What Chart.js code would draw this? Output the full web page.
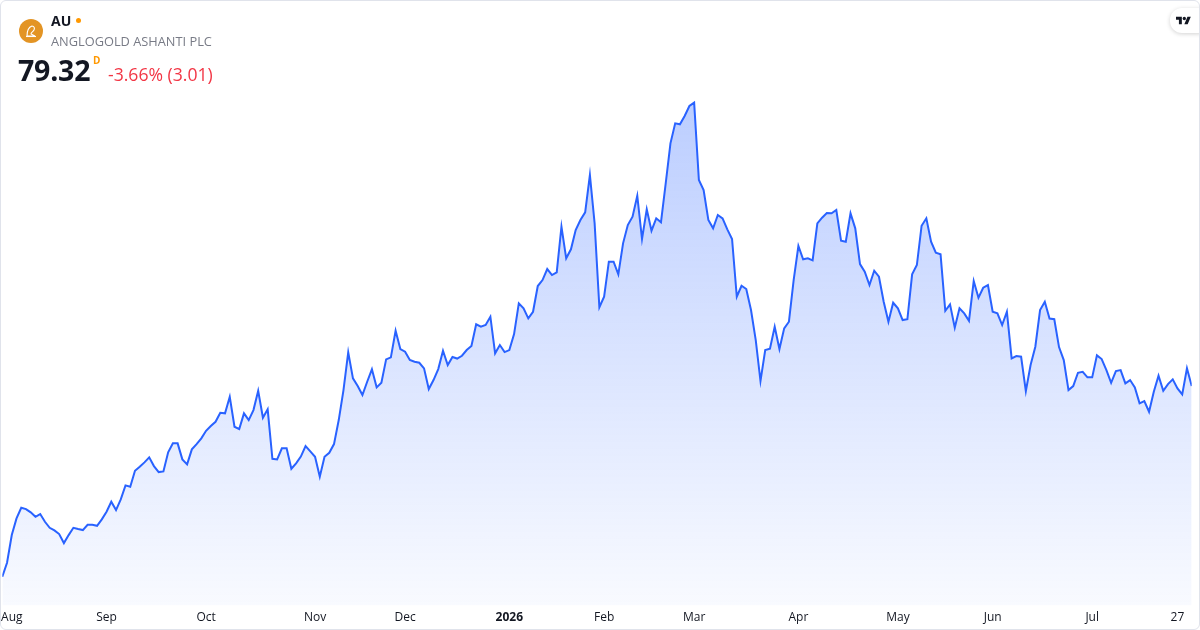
<!DOCTYPE html>
<html>
<head>
<meta charset="utf-8">
<script src="https://cdn.jsdelivr.net/npm/chart.js@4.4.1/dist/chart.umd.min.js"></script>
<style>
  html, body { margin: 0; padding: 0; background: #fff; }
  body { width: 1200px; height: 630px; position: relative; overflow: hidden; font-family: 'Open Sans', sans-serif; }
  #wrap { position: absolute; left: 0; top: 0; width: 1200px; height: 630px; }
  .frame { position: absolute; left: 0; top: 0; width: 1198px; height: 628px; border: 1px solid #e0e3eb; border-radius: 6px; pointer-events: none; }
  .logo { position: absolute; left: 19px; top: 19px; width: 24px; height: 24px; border-radius: 50%; background: #e39424; }
  .sym { position: absolute; left: 51px; top: 11px; font-size: 14px; font-weight: 700; color: #131722; }
  .dot { position: absolute; left: 76px; top: 18px; width: 5px; height: 5px; border-radius: 50%; background: #ff9800; }
  .name { position: absolute; left: 51px; top: 32px; font-size: 12.8px; color: #787b86; }
  .price { position: absolute; left: 18px; top: 51px; font-size: 28.5px; font-weight: 700; color: #131722; letter-spacing: -0.2px; }
  .tf { position: absolute; left: 93px; top: 53px; font-size: 10px; font-weight: 700; color: #ff9800; }
  .chg { position: absolute; left: 108px; top: 62px; font-size: 17.6px; color: #f23645; }
  .tv { position: absolute; left: 1170px; top: 8px; width: 40px; height: 25px; background: #fff; border-radius: 12px; box-shadow: 0 1px 4px rgba(0,0,0,0.18); }
</style>
</head>
<body>
<div id="wrap"><canvas id="chart"></canvas></div>
<div class="logo">
  <svg width="24" height="24" viewBox="0 0 24 24">
    <path d="M8 17 C8 12 10 8 13 7 C15 7 16 9 15 11 C14 13 12 13 12 15 L16 17 Z" fill="none" stroke="#fff" stroke-width="1.1"/>
    <path d="M7 17.5 H17" stroke="#fff" stroke-width="1.1"/>
  </svg>
</div>
<div class="sym">AU</div>
<div class="dot"></div>
<div class="name">ANGLOGOLD ASHANTI PLC</div>
<div class="price">79.32</div>
<div class="tf">D</div>
<div class="chg">-3.66% (3.01)</div>
<div class="tv">
  <svg style="position:absolute;left:6px;top:7px" width="15" height="12" viewBox="0 0 36 28">
    <path d="M14 22H7V11H0V4h14v18zM28 22h-8l7.5-18h8L28 22z" fill="#131722"/>
    <circle cx="20" cy="8" r="4" fill="#131722"/>
  </svg>
</div>
<div class="frame"></div>
<script>
/* daily closes, AU, Jul 2025 - Jul 2026 */
const prices = [
  41.16, 43.96, 49.5, 52.84, 54.96, 54.7, 54.04, 53.16, 53.7, 52.16,
  50.96, 50.44, 49.7, 47.9, 49.5, 50.96, 50.7, 50.5, 51.56, 51.56,
  51.36, 52.64, 54.16, 56.16, 54.5, 56.64, 59.44, 59.16, 62.36, 63.16,
  64.04, 65.04, 63.3, 62.1, 62.24, 66.04, 67.84, 67.84, 64.64, 63.64,
  66.64, 67.7, 68.84, 70.36, 71.3, 72.16, 73.96, 73.84, 77.16, 71.16,
  70.7, 73.84, 72.5, 74.5, 78.36, 72.96, 74.64, 64.76, 64.64, 66.84,
  66.84, 62.76, 63.84, 65.2, 67.3, 66.24, 65.16, 61.16, 65.16, 65.96,
  67.7, 72.5, 78.5, 86.04, 80.84, 79.3, 77.5, 80.16, 82.64, 79.04,
  79.96, 84.64, 85.04, 90.36, 86.7, 86.16, 84.5, 84.16, 83.96, 82.84,
  78.7, 80.5, 82.7, 86.36, 83.5, 85.1, 84.8, 85.36, 86.5, 87.3,
  91.64, 91.16, 91.5, 93.16, 85.84, 87.5, 86.1, 86.5, 89.7, 95.84,
  94.84, 92.84, 94.16, 99.3, 100.5, 102.7, 101.5, 102.04, 111.16, 104.84,
  106.64, 110.5, 112.5, 114.04, 121.5, 111.84, 95.06, 97.16, 104.16, 104.16,
  101.64, 107.84, 111.5, 113.16, 117.36, 108.7, 114.64, 110.36, 112.84, 112.04,
  119.84, 127.84, 131.84, 131.64, 133.3, 135.3, 135.96, 120.5, 118.5, 112.5,
  110.84, 113.5, 112.84, 110.64, 108.7, 97.16, 99.36, 98.7, 94.5, 88.5,
  80.3, 86.5, 86.76, 91.16, 86.7, 90.84, 92.16, 100.5, 107.3, 104.64,
  104.84, 104.44, 111.84, 112.96, 113.9, 113.84, 114.5, 108.36, 108.16, 113.84,
  110.84, 103.7, 102.16, 99.5, 102.36, 101.16, 96.16, 92.16, 95.96, 94.84,
  92.5, 92.66, 101.64, 103.5, 111.36, 112.84, 108.16, 105.96, 105.64, 94.36,
  95.64, 90.96, 94.84, 93.84, 92.36, 100.3, 96.96, 98.96, 99.5, 94.16,
  93.84, 91.5, 94.16, 84.84, 85.3, 85.16, 78.3, 83.5, 87.16, 94.5,
  96.16, 92.8, 92.66, 87.1, 84.5, 78.5, 79.3, 81.96, 82.16, 81.04,
  81.04, 85.44, 84.7, 82.5, 79.96, 82.3, 82.5, 79.84, 80.5, 79.04,
  75.84, 76.3, 74.16, 78.16, 81.36, 78.36, 79.7, 80.64, 78.84, 77.64,
  82.84, 79.32
];

/* x axis: bar index of each labelled tick */
const tickIdx = [2, 22, 43, 66, 85, 107, 127, 146, 168, 189, 209, 230, 248];
const tickLabels = ['Aug', 'Sep', 'Oct', 'Nov', 'Dec', '2026', 'Feb', 'Mar', 'Apr', 'May', 'Jun', 'Jul', '27'];

const points = prices.map((v, i) => ({ x: i, y: v }));

function areaGradient(context) {
  const { chart } = context;
  const a = chart.chartArea;
  if (!a) return 'rgba(41,98,255,0.1)';
  const g = chart.ctx.createLinearGradient(0, a.top, 0, a.bottom);
  g.addColorStop(0, 'rgba(41,98,255,0.32)');
  g.addColorStop(1, 'rgba(41,98,255,0.03)');
  return g;
}

new Chart(document.getElementById('chart'), {
  type: 'line',
  data: {
    datasets: [{
      data: points,
      borderColor: '#2962ff',
      borderWidth: 2,
      backgroundColor: areaGradient,
      fill: 'start',
      pointRadius: 0,
      tension: 0,
    }]
  },
  options: {
    responsive: true, maintainAspectRatio: false,
    animation: false,
    layout: { padding: { left: 2.3, right: 8.3, top: 90, bottom: 0 } },
    plugins: { legend: { display: false }, tooltip: { enabled: false } },
    scales: {
      x: {
        type: 'linear', min: 0, max: prices.length - 1,
        grid: { display: false, drawTicks: false }, border: { display: false },
        afterBuildTicks: s => { s.ticks = tickIdx.map(v => ({ value: v })); },
        afterFit: s => { s.paddingLeft = 0; s.paddingRight = 0; },
        ticks: {
          autoSkip: false, maxRotation: 0, padding: 5, color: '#131722',
          font: c => ({ family: 'Open Sans', size: 12, weight: (c.tick && tickIdx.indexOf(c.tick.value) === 5) ? '700' : '400' }),
          callback: v => tickLabels[tickIdx.indexOf(v)] || ''
        }
      },
      y: { display: false, min: 35.4, max: 138.5 }
    }
  }
});
</script>
</body>
</html>
